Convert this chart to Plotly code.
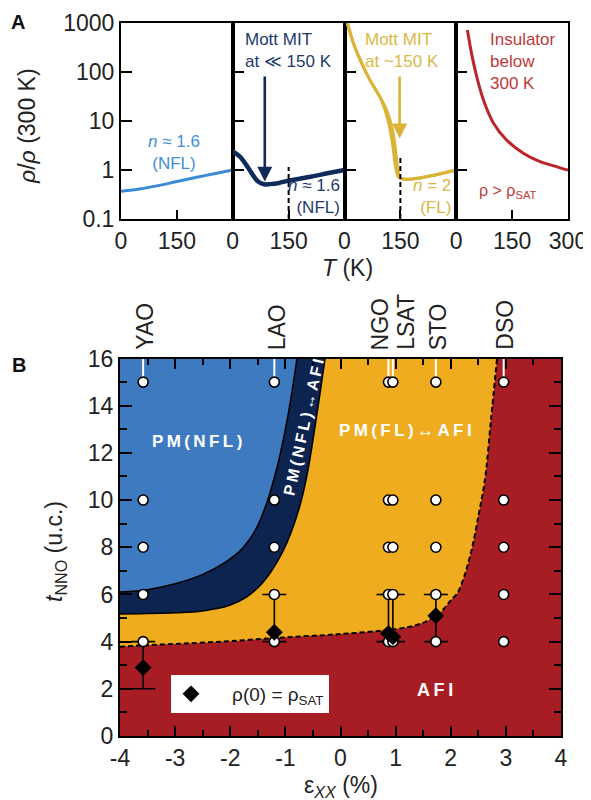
import math
import plotly.graph_objects as go

FONT = "Liberation Sans, Arial, Helvetica, sans-serif"
PAGE_OFF = 8           # browser body margin
W, H = 591 - PAGE_OFF, 800 - PAGE_OFF


def px(xp):
    return (xp - PAGE_OFF) / W


def py(yp):
    return 1 - (yp - PAGE_OFF) / H


# ---------------- Panel A data: rho/rho(300 K) versus T ----------------
T_YAO = [0, 50, 100, 150, 200, 250, 300]
R_YAO = [0.37, 0.41, 0.48, 0.58, 0.70, 0.84, 1.00]

T_LAO = [0, 20, 40, 55, 68, 84, 100, 120, 156, 209, 254, 300]
R_LAO = [2.40, 1.85, 1.15, 0.77, 0.58, 0.51, 0.515, 0.535, 0.62, 0.73, 0.855, 1.00]

T_NGO_A = [7.6, 24, 42, 68, 95, 113, 127, 136, 142, 149, 167, 220, 300]
R_NGO_A = [1000, 385, 176, 69, 31, 16.8, 7.6, 3.0, 1.17, 0.68, 0.645, 0.73, 1.00]
T_NGO_B = [7.6, 24, 42, 68, 95, 109, 121, 130, 137, 144, 150, 167, 220, 300]
R_NGO_B = [1000, 385, 176, 69, 31, 16.8, 7.6, 3.0, 1.17, 0.74, 0.68, 0.645, 0.73, 1.00]

T_DSO = [30, 41, 55, 73, 100, 135, 180, 225, 269, 292, 300]
R_DSO = [720, 240, 80, 26.8, 9.0, 4.1, 2.2, 1.48, 1.17, 1.03, 1.00]

# Mott MIT arrows (panel 2 and 3): T position, arrow tip and tail (rho/rho300)
ARROW_T = [86, 148]
ARROW_TIP = [0.58, 4.4]
ARROW_TAIL = [87, 87]
# dashed markers at T = 150 K (panel 2 and 3)
DASH_T = 150
DASH_TOP = [1.15, 2.0]

T_RANGE = [0, 300]
T_TICKS = [0, 150]
T_TICKS_LAST = [0, 150, 300]
R_TICKS = [0.1, 1, 10, 100, 1000]
R_TICKTEXT = ["0.1", "1", "10", "100", "1000"]

# ---------------- Panel B data: phase diagram ----------------
SUBSTRATES = ["YAO", "LAO", "NGO", "LSAT", "STO", "DSO"]
STRAIN = [-3.58, -1.20, 0.87, 0.95, 1.73, 2.96]
T_MEAS = [4, 6, 8, 10, 15]

SAT_STRAIN = [-3.58, -1.20, 0.87, 0.95, 1.73]
SAT_T = [2.9, 4.4, 4.35, 4.2, 5.1]
SAT_LO = [2, 4, 4, 4, 4]
SAT_HI = [4, 6, 6, 6, 6]

# PM(NFL) / PM(NFL)<->AFI boundary
BLUE_X = [-4.0, -3.5, -3.0, -2.5, -2.1, -1.8, -1.55, -1.35, -1.15, -1.0, -0.88, -0.79]
BLUE_T = [6.1, 6.2, 6.45, 6.85, 7.35, 7.9, 8.7, 9.8, 11.4, 13.0, 14.6, 16.0]
# PM(NFL)<->AFI / PM(FL)<->AFI boundary
NAVY_X = [-4.0, -3.0, -2.5, -2.0, -1.7, -1.45, -1.25, -1.05, -0.9, -0.72, -0.58, -0.45, -0.36, -0.28]
NAVY_T = [5.17, 5.22, 5.3, 5.55, 5.9, 6.4, 7.0, 7.8, 8.6, 9.9, 11.4, 13.3, 14.7, 16.0]
# PM(FL)<->AFI / AFI boundary (dashed)
DASH_X = [-4.0, -3.5, -3.0, -2.0, -1.2, 0.0, 0.9, 1.3, 1.55, 1.75, 1.9, 2.0, 2.12, 2.25, 2.39, 2.5, 2.62, 2.73, 2.84]
DASH_TB = [3.78, 3.85, 3.9, 4.02, 4.15, 4.32, 4.5, 4.65, 4.85, 5.12, 5.45, 5.75, 6.05, 6.8, 8.0, 9.3, 10.85, 13.4, 16.0]

X_RANGE = [-4, 4]
Y_RANGE = [0, 16]
X_TICKS = [-4, -3, -2, -1, 0, 1, 2, 3, 4]
Y_TICKS = [0, 2, 4, 6, 8, 10, 12, 14, 16]

# ---------------- styles ----------------
C_LBLUE = "#3a8ad6"
C_NAVY_L = "#0e2b5c"
C_GOLD_L = "#dbb336"
C_RED_L = "#bb2428"
C_BLUE_R = "#3e7abf"
C_NAVY_R = "#0d2450"
C_GOLD_R = "#efac1f"
C_RED_R = "#a81d23"
TXT = "#222222"
LABEL_XSHIFT_PX = [1, 3, -8, 13, 2, 1]

fig = go.Figure()

# panel A traces
panelA = [
    (1, [(T_YAO, R_YAO)], C_LBLUE, 3),
    (2, [(T_LAO, R_LAO)], C_NAVY_L, 4.5),
    (3, [(T_NGO_A, R_NGO_A), (T_NGO_B, R_NGO_B)], C_GOLD_L, 3),
    (4, [(T_DSO, R_DSO)], C_RED_L, 3),
]
for i, curves, col, lw in panelA:
    for tx, ry in curves:
        fig.add_trace(go.Scatter(x=tx, y=ry, mode="lines", xaxis=f"x{i}", yaxis=f"y{i}",
                                 line=dict(color=col, width=lw, shape="spline", smoothing=0.8),
                                 showlegend=False, hoverinfo="skip"))
for k, i in enumerate([2, 3]):
    fig.add_trace(go.Scatter(x=[DASH_T, DASH_T], y=[R_TICKS[0], DASH_TOP[k]], mode="lines",
                             xaxis=f"x{i}", yaxis=f"y{i}",
                             line=dict(color="black", width=2, dash="5px,3px"),
                             showlegend=False, hoverinfo="skip"))

# panel B fills (each fills the region above-left of its boundary up to the top edge)
regions = [
    (DASH_X, DASH_TB, C_GOLD_R, dict(color="black", width=2, dash="5px,3px")),
    (NAVY_X, NAVY_T, C_NAVY_R, dict(color="black", width=1.5)),
    (BLUE_X, BLUE_T, C_BLUE_R, dict(color="black", width=1.5)),
]
for bx, bt, col, ln in regions:
    fig.add_trace(go.Scatter(x=[bx[0], bx[-1]], y=[Y_RANGE[1], Y_RANGE[1]], mode="lines",
                             xaxis="x5", yaxis="y5", line=dict(width=0, color=col),
                             showlegend=False, hoverinfo="skip"))
    fig.add_trace(go.Scatter(x=bx, y=bt, mode="lines", xaxis="x5", yaxis="y5",
                             fill="tonexty", fillcolor=col,
                             line=dict(shape="spline", smoothing=0.9, **ln),
                             showlegend=False, hoverinfo="skip"))

# white substrate guide lines from the top edge to the thickest film
gx, gy = [], []
for s in STRAIN:
    gx += [s, s, None]
    gy += [max(T_MEAS), Y_RANGE[1], None]
fig.add_trace(go.Scatter(x=gx, y=gy, mode="lines", xaxis="x5", yaxis="y5",
                         line=dict(color="white", width=2), showlegend=False, hoverinfo="skip"))

# error bars for rho(0) = rho_SAT
fig.add_trace(go.Scatter(
    x=SAT_STRAIN, y=SAT_T, mode="markers", xaxis="x5", yaxis="y5",
    marker=dict(size=2, color="rgba(0,0,0,0)"),
    error_y=dict(type="data", symmetric=False,
                 array=[h - t for h, t in zip(SAT_HI, SAT_T)],
                 arrayminus=[t - l for l, t in zip(SAT_LO, SAT_T)],
                 width=12, thickness=1.6, color="black"),
    showlegend=False, hoverinfo="skip"))

# measured samples (open circles)
cx, cy = [], []
for s in STRAIN:
    for t in T_MEAS:
        cx.append(s)
        cy.append(t)
fig.add_trace(go.Scatter(x=cx, y=cy, mode="markers", xaxis="x5", yaxis="y5",
                         marker=dict(size=10, color="white", line=dict(color="black", width=1.6)),
                         showlegend=False, hoverinfo="skip"))

# diamonds
fig.add_trace(go.Scatter(x=SAT_STRAIN, y=SAT_T, mode="markers", xaxis="x5", yaxis="y5",
                         marker=dict(size=13, symbol="diamond", color="black"),
                         name="    ρ(0) = ρ<sub>SAT</sub>", showlegend=True, hoverinfo="skip"))

# ---------------- axes ----------------
A_L, A_R, A_T, A_B = 121, 568, 23, 219
edges = [A_L + k * (A_R - A_L) / 4 for k in range(5)]
tickfont = dict(family=FONT, size=23, color=TXT)
layout = {}
for i in range(1, 5):
    layout[f"xaxis{i}" if i > 1 else "xaxis"] = dict(
        domain=[px(edges[i - 1]), px(edges[i])], anchor=f"y{i}" if i > 1 else "y",
        range=T_RANGE, tickmode="array", tickvals=T_TICKS_LAST if i == 4 else T_TICKS,
        ticks="inside", ticklen=9, tickwidth=2, tickcolor="black",
        showline=True, linecolor="black", linewidth=2, mirror=True,
        showgrid=False, zeroline=False, tickfont=tickfont, fixedrange=True)
    layout[f"yaxis{i}" if i > 1 else "yaxis"] = dict(
        domain=[py(A_B), py(A_T)], anchor=f"x{i}" if i > 1 else "x",
        type="log", range=[math.log10(R_TICKS[0]), math.log10(R_TICKS[-1])],
        tickmode="array", tickvals=R_TICKS, ticktext=R_TICKTEXT, showticklabels=(i == 1),
        ticks="inside", ticklen=11, tickwidth=2, tickcolor="black",
        showline=True, linecolor="black", linewidth=2, mirror=True,
        showgrid=False, zeroline=False, tickfont=tickfont, fixedrange=True)

B_L, B_R, B_T, B_B = 120, 561, 358.5, 736
layout["xaxis5"] = dict(
    domain=[px(B_L), px(B_R)], anchor="y5", range=X_RANGE,
    tickmode="array", tickvals=X_TICKS, ticktext=[str(v) for v in X_TICKS],
    ticks="inside", ticklen=10, tickwidth=2, tickcolor="black",
    minor=dict(ticks="inside", ticklen=6, tickwidth=2, tickcolor="black", dtick=0.5, tick0=-4),
    showline=True, linecolor="black", linewidth=2, mirror="ticks",
    showgrid=False, zeroline=False, tickfont=tickfont, fixedrange=True)
layout["yaxis5"] = dict(
    domain=[py(B_B), py(B_T)], anchor="x5", range=Y_RANGE,
    tickmode="array", tickvals=Y_TICKS,
    ticks="inside", ticklen=12, tickwidth=2, tickcolor="black",
    minor=dict(ticks="inside", ticklen=7, tickwidth=2, tickcolor="black", dtick=1, tick0=0),
    showline=True, linecolor="black", linewidth=2, mirror="ticks",
    showgrid=False, zeroline=False, tickfont=tickfont, fixedrange=True)

# ---------------- annotations ----------------
ann = []


def a(**kw):
    base = dict(showarrow=False, xanchor="center", yanchor="middle")
    base.update(kw)
    ann.append(base)


def f(size, color):
    return dict(family=FONT, size=size, color=color)


# panel labels and axis titles
a(text="<b>A</b>", x=px(18), y=py(22), xref="paper", yref="paper", font=f(20, "#111"))
a(text="<b>B</b>", x=px(19), y=py(365), xref="paper", yref="paper", font=f(20, "#111"))
a(text="<i>ρ</i>/<i>ρ</i> (300 K)", x=px(27), y=py(126), xref="paper", yref="paper",
  textangle=-90, font=f(23, TXT))
a(text="<i>T</i> (K)", x=px(347), y=py(268), xref="paper", yref="paper", font=f(23, TXT))
a(text="<i>t</i><sub>NNO</sub> (u.c.)", x=px(55), y=py(552), xref="paper", yref="paper",
  textangle=-90, font=f(23, TXT))
a(text="ε<sub><i>XX</i></sub> (%)", x=px(341), y=py(786), xref="paper", yref="paper",
  font=f(23, TXT))

# panel A texts
a(text="<i>n</i> ≈ 1.6<br>(NFL)", x=0.47, y=0.339, xref="x domain", yref="y domain",
  font=f(17, "#3f8fd8"))
a(text="Mott MIT<br>at ≪ 150 K", x=0.094, y=0.861, xref="x2 domain", yref="y2 domain",
  xanchor="left", align="left", font=f(17, "#1d3a6b"))
a(text="<i>n</i> ≈ 1.6<br>(NFL)", x=0.975, y=0.114, xref="x2 domain", yref="y2 domain",
  xanchor="right", align="right", font=f(17, "#1d3a6b"))
a(text="Mott MIT<br>at ~150 K", x=0.163, y=0.86, xref="x3 domain", yref="y3 domain",
  xanchor="left", align="left", font=f(17, "#dab846"))
a(text="<i>n</i> = 2<br>(FL)", x=0.975, y=0.114, xref="x3 domain", yref="y3 domain",
  xanchor="right", align="right", font=f(17, "#dab846"))
a(text="Insulator<br>below<br>300 K", x=0.287, y=0.805, xref="x4 domain", yref="y4 domain",
  xanchor="left", align="left", font=f(17, "#c0393a"))
a(text="ρ > ρ<sub>SAT</sub>", x=0.459, y=0.139, xref="x4 domain", yref="y4 domain",
  font=f(16, "#c0393a"))

# Mott MIT arrows
for k, (i, col) in enumerate([(2, C_NAVY_L), (3, C_GOLD_L)]):
    ann.append(dict(x=ARROW_T[k], y=math.log10(ARROW_TIP[k]), ax=ARROW_T[k], ay=math.log10(ARROW_TAIL[k]),
                    xref=f"x{i}", yref=f"y{i}", axref=f"x{i}", ayref=f"y{i}", text="",
                    showarrow=True, arrowhead=2, arrowsize=1.15, arrowwidth=2.6, arrowcolor=col,
                    standoff=0))

# substrate labels on top of panel B
for name, s, sh in zip(SUBSTRATES, STRAIN, LABEL_XSHIFT_PX):
    a(text=name, x=s, y=py(352), xref="x5", yref="paper", textangle=-90,
      xanchor="center", yanchor="bottom", xshift=sh, font=f(23, TXT))

# phase labels
TS = "\u2009"
a(text="<b>" + TS.join("PM(NFL)") + "</b>", x=-2.6, y=12.5, xref="x5", yref="y5",
  font=f(17, "white"))
a(text="<b>" + TS.join("PM(FL)↔AFI") + "</b>", x=1.18, y=12.95, xref="x5", yref="y5",
  font=f(17, "white"))
a(text="<b>" + TS.join("PM(NFL)↔AFI") + "</b>", x=-0.66, y=13.1, xref="x5", yref="y5",
  textangle=-77.6, font=f(16, "white"))
a(text="<b>" + TS.join("AFI") + "</b>", x=1.71, y=1.95, xref="x5", yref="y5",
  font=f(18, "white"))

shapes = [dict(type="rect", xref="x5 domain", yref="y5 domain", x0=0, x1=1, y0=0, y1=1,
               fillcolor=C_RED_R, line=dict(width=0), layer="below")]

fig.update_layout(
    width=W, height=H, margin=dict(l=0, r=0, t=0, b=0),
    paper_bgcolor="white", plot_bgcolor="white", template="none",
    font=dict(family=FONT, color=TXT),
    annotations=ann, shapes=shapes, hovermode=False,
    legend=dict(x=px(171), y=py(675), xanchor="left", yanchor="top",
                bgcolor="white", borderwidth=0, font=dict(family=FONT, size=19, color=TXT),
                itemwidth=30, tracegroupgap=0),
    **layout)

fig.write_html("out.html")
